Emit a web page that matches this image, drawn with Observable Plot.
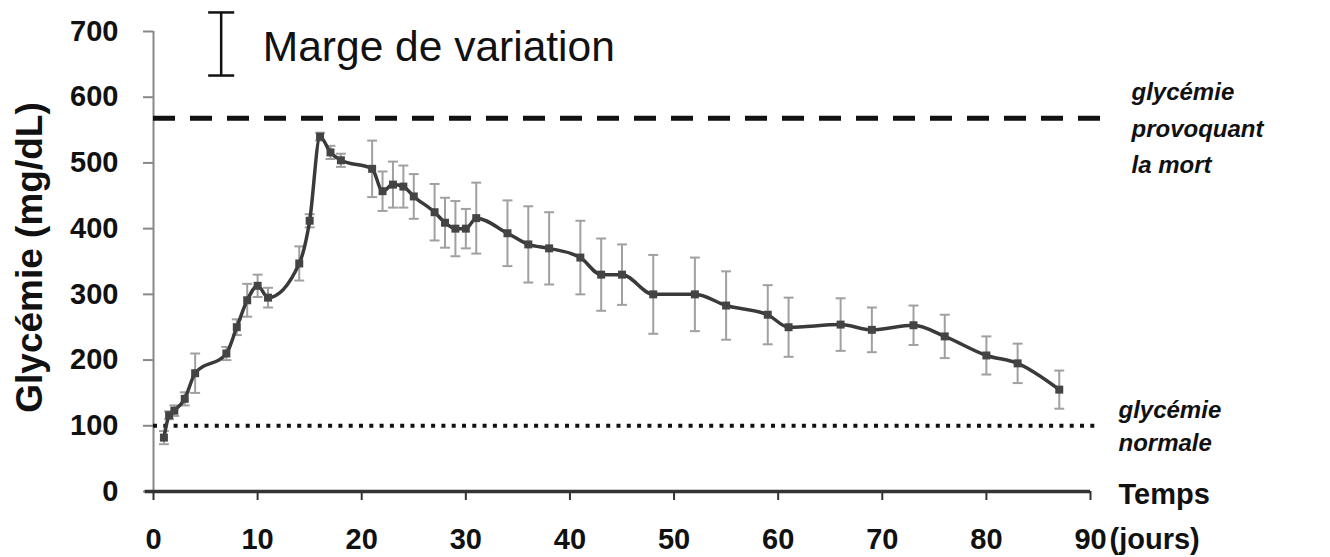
<!DOCTYPE html>
<html>
<head>
<meta charset="utf-8">
<script src="https://cdn.jsdelivr.net/npm/d3@7"></script>
<script src="https://cdn.jsdelivr.net/npm/@observablehq/plot@0.6"></script>
<style>
  html, body { margin: 0; padding: 0; background: #fff; }
  #chart { width: 1330px; height: 557px; }
</style>
</head>
<body>
<div id="chart"></div>
<script>
// ---- data ----
const days   = [1, 1.5, 2, 3, 4, 7, 8, 9, 10, 11, 14, 15, 16, 17, 18, 21, 22, 23, 24, 25, 27, 28, 29, 30, 31, 34, 36, 38, 41, 43, 45, 48, 52, 55, 59, 61, 66, 69, 73, 76, 80, 83, 87];
const values = [82, 116, 123, 141, 180, 210, 250, 291, 313, 295, 347, 412, 540, 516, 504, 491, 457, 467, 464, 449, 425, 409, 400, 400, 416, 393, 376, 370, 356, 330, 330, 300, 300, 283, 269, 250, 254, 246, 253, 236, 207, 195, 155];
const errors = [10, 6, 8, 10, 30, 10, 12, 25, 17, 15, 26, 10, 6, 10, 10, 43, 30, 35, 32, 34, 43, 38, 42, 30, 54, 50, 58, 55, 56, 55, 46, 60, 56, 52, 45, 45, 40, 34, 30, 33, 29, 30, 29];

const xTicks = [0, 10, 20, 30, 40, 50, 60, 70, 80, 90];
const yTicks = [0, 100, 200, 300, 400, 500, 600, 700];

const deathLevel  = 568;   // glycémie provoquant la mort
const normalLevel = 100;   // glycémie normale
const deathLabel  = ["glycémie\nprovoquant\nla mort"];
const normalLabel = ["glycémie\nnormale"];
const xLabel1 = ["Temps"];
const xLabel2 = ["(jours)"];
const yLabel  = ["Glycémie (mg/dL)"];

// legend ("Marge de variation") placed in data units
const legendItems = [{x: 6.5, lo: 633, hi: 729, textX: 10.5, mid: 676, label: "Marge de variation"}];

// ---- build table ----
const rows = days.map((d, i) => ({day: d, value: values[i], lo: values[i] - errors[i], hi: values[i] + errors[i]}));

// horizontal cap symbol for error bars
const capSymbol = {
  draw(context, size) {
    const w = Math.sqrt(size);
    context.moveTo(-w / 2, 0);
    context.lineTo(w / 2, 0);
  }
};

const chart = Plot.plot({
  width: 1330,
  height: 557,
  marginLeft: 153,
  marginRight: 240,
  marginTop: 31,
  marginBottom: 66,
  x: {domain: [0, 90]},
  y: {domain: [0, 700]},
  style: {
    fontFamily: "'Liberation Sans', Arial, sans-serif",
    fontSize: "29px",
    fontWeight: "bold",
    color: "#111",
    background: "#fff",
    overflow: "visible"
  },
  marks: [
    // axes
    Plot.axisY({ticks: yTicks, tickSize: 10, tickPadding: 25, label: null, stroke: "#888", strokeWidth: 2, fill: "#111"}),
    Plot.axisX({ticks: xTicks, tickSize: 9, tickPadding: 28, label: null, stroke: "#333", strokeWidth: 2, fill: "#111"}),
    Plot.ruleX([0], {stroke: "#888", strokeWidth: 2}),
    Plot.ruleY([0], {x1: -0.8, x2: 90, stroke: "#333", strokeWidth: 3.5}),

    // reference lines
    Plot.ruleY([deathLevel], {x1: 0, x2: 91.5, stroke: "#111", strokeWidth: 5, strokeDasharray: "22,15"}),
    Plot.ruleY([normalLevel], {x1: 0, x2: 90.5, stroke: "#111", strokeWidth: 4, strokeDasharray: "4,6.3"}),

    // error bars
    Plot.ruleX(rows, {x: "day", y1: "lo", y2: "hi", stroke: "#a0a0a0", strokeWidth: 2}),
    Plot.dot(rows, {x: "day", y: "hi", symbol: capSymbol, r: 5.6, stroke: "#a0a0a0", strokeWidth: 2, fill: "none"}),
    Plot.dot(rows, {x: "day", y: "lo", symbol: capSymbol, r: 5.6, stroke: "#a0a0a0", strokeWidth: 2, fill: "none"}),

    // mean curve
    Plot.line(rows, {x: "day", y: "value", stroke: "#3a3a3a", strokeWidth: 3.5, curve: "monotone-x"}),
    Plot.dot(rows, {x: "day", y: "value", symbol: "square", r: 4.5, fill: "#444"}),

    // legend
    Plot.ruleX(legendItems, {x: "x", y1: "lo", y2: "hi", stroke: "#111", strokeWidth: 2.5}),
    Plot.dot(legendItems, {x: "x", y: "hi", symbol: capSymbol, r: 14.7, stroke: "#111", strokeWidth: 2.5, fill: "none"}),
    Plot.dot(legendItems, {x: "x", y: "lo", symbol: capSymbol, r: 14.7, stroke: "#111", strokeWidth: 2.5, fill: "none"}),
    Plot.text(legendItems, {x: "textX", y: "mid", text: "label", textAnchor: "start", fontSize: 42.5, fontWeight: "normal", fill: "#111"}),

    // annotations on the right
    Plot.text(deathLabel, {x: 90, y: deathLevel, dx: 41, dy: 7, textAnchor: "start", lineAnchor: "middle", lineHeight: 1.52, fontSize: 24, fontStyle: "italic", fontWeight: "bold", fill: "#111"}),
    Plot.text(normalLabel, {x: 90, y: normalLevel, dx: 28, dy: -2, textAnchor: "start", lineAnchor: "middle", lineHeight: 1.4, fontSize: 24, fontStyle: "italic", fontWeight: "bold", fill: "#111"}),
    Plot.text(xLabel1, {x: 90, y: 0, dx: 28, dy: 3, textAnchor: "start", lineAnchor: "middle", fontSize: 29, fontWeight: "bold", fill: "#111"}),
    Plot.text(xLabel2, {x: 90, y: 0, dx: 19, dy: 37, textAnchor: "start", lineAnchor: "top", fontSize: 29, fontWeight: "bold", fill: "#111"}),

    // y axis title
    Plot.text(yLabel, {frameAnchor: "left", dx: -123, dy: -4, rotate: -90, textAnchor: "middle", lineAnchor: "middle", fontSize: 37, fontWeight: "bold", fill: "#111"})
  ]
});

document.getElementById("chart").appendChild(chart);
</script>
</body>
</html>
